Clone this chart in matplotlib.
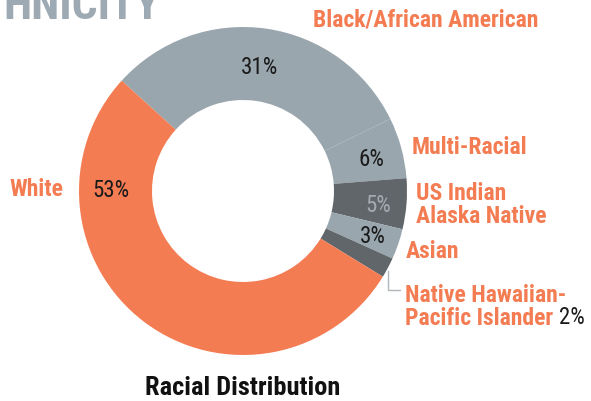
import matplotlib
matplotlib.use("Agg")
import matplotlib.pyplot as plt

# data
groups = ["Black/African American", "Multi-Racial", "US Indian\nAlaska Native",
          "Asian", "Native Hawaiian-\nPacific Islander", "White"]
shares = [31, 6, 5, 3, 2, 53]

ORANGE = "#f47c53"
LIGHT = "#9aa6ae"
DARK = "#60666a"
colors = [LIGHT, LIGHT, DARK, LIGHT, DARK, ORANGE]
pct_colors = ["#1a1a1a", "#1a1a1a", "#a3abb0", "#1a1a1a", "#1a1a1a", "#1a1a1a"]

W, H = 591, 402
FONT = ["Roboto Condensed", "Liberation Sans", "DejaVu Sans"]

fig = plt.figure(figsize=(W / 100, H / 100), dpi=100)
ax = fig.add_axes([0, 0, 1, 1])

cx, cy, r = 243, H - 192, 164
ax.pie(shares, colors=colors, startangle=137.7, counterclock=False,
       center=(cx, cy), radius=r, wedgeprops=dict(width=73, linewidth=0),
       frame=True)
ax.set_xlim(0, W)
ax.set_ylim(0, H)
ax.set_aspect("equal")
ax.axis("off")


def px(x, y):
    return x, H - y


# category labels (positions in pixel coords from top-left)
label_pos = [(313, 20, "left"), (412, 148, "left"), (416, 205, "left"),
             (406, 251, "left"), (405, 307, "left"), (63, 190, "right")]
for name, (x, y, ha) in zip(groups, label_pos):
    ax.text(*px(x, y), name, ha=ha, va="center", color=ORANGE,
            fontsize=17, fontweight="bold", family=FONT, linespacing=0.95)

# percentage labels
pct_pos = [(259, 68), (371, 160), (378, 206), (373, 237), (572, 318), (111, 191)]
for val, (x, y), c in zip(shares, pct_pos, pct_colors):
    ax.text(*px(x, y), f"{val}%", ha="center", va="center", color=c,
            fontsize=16.5, family=FONT)

# leader line for the small slice
ax.plot([388, 388, 400], [H - 272, H - 291, H - 291], color="#b0b6ba", lw=1)

# header is cropped at the top-left in the source image
fig.text(3 / W, 1 - 19 / H, "HNICITY", ha="left", va="baseline",
         color="#9eaab3", fontsize=33, fontweight="heavy", family=FONT)
fig.text(243 / W, 1 - 388 / H, "Racial Distribution", ha="center",
         va="center", color="#111111", fontsize=19, fontweight="bold",
         family=FONT)

fig.savefig("out.png", dpi=100)
